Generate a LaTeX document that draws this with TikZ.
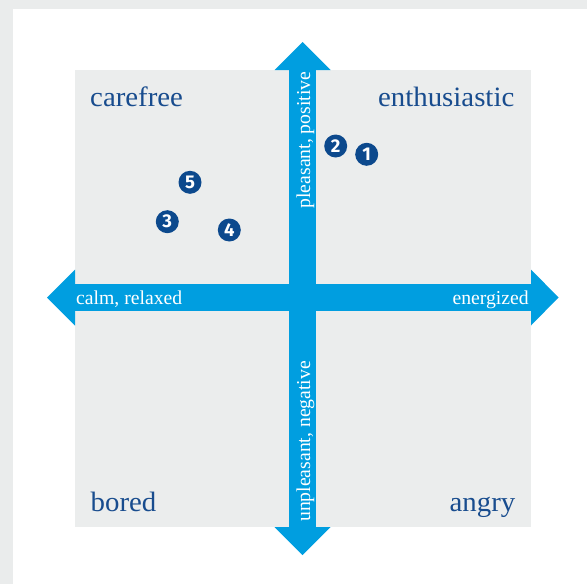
\documentclass[tikz,border=0pt]{standalone}
\usepackage{fontspec}
\setmainfont{Liberation Serif}
\newfontfamily\quadfont{Liberation Serif}[FakeStretch=1.03]
\newfontfamily\numfont{Fira Sans}
\definecolor{outergrey}{RGB}{234,236,236}
\definecolor{panelgrey}{RGB}{235,237,237}
\definecolor{arrowblue}{RGB}{0,158,224}
\definecolor{labelblue}{RGB}{24,76,142}
\definecolor{dotblue}{RGB}{12,73,141}
\tikzset{
  quadlabel/.style={inner sep=0pt, text=labelblue, font=\quadfont\fontsize{28}{30}\selectfont},
  axislabel/.style={inner sep=0pt, text=white, font=\fontsize{19.7}{22}\selectfont},
  dot/.style={circle, fill=dotblue, inner sep=0pt, minimum size=23pt, text=white, font=\numfont\bfseries\fontsize{18.5}{19}\selectfont}
}
\begin{document}
\begin{tikzpicture}[x=1pt,y=-1pt]
\useasboundingbox (0,0) rectangle (587,584);
\fill[outergrey] (0,0) rectangle (587,584);
\fill[white] (13,9) rectangle (587,584);
\fill[panelgrey] (75,70) rectangle (531,527);
% horizontal double arrow
\fill[arrowblue] (47,297.5) -- (75,269.5) -- (75,284.2) -- (531,284.2) -- (531,269.5) -- (558.5,297.5) -- (531,325.5) -- (531,310.8) -- (75,310.8) -- (75,325.5) -- cycle;
% vertical double arrow
\fill[arrowblue] (302.5,42) -- (330.5,70) -- (315.8,70) -- (315.8,527) -- (330.5,527) -- (302.5,555) -- (274.5,527) -- (289.2,527) -- (289.2,70) -- (274.5,70) -- cycle;
% quadrant labels
\node[quadlabel, anchor=base west] (carefree) at (90,106.7) {carefree};
\node[quadlabel, anchor=base east] (enthusiastic) at (514.5,106.5) {enthusiastic};
\node[quadlabel, anchor=base west] (bored) at (90.5,511.4) {bored};
\node[quadlabel, anchor=base east] (angry) at (515.5,511.4) {angry};
% axis labels
\node[axislabel, anchor=base west] (calm) at (76,304.3) {calm, relaxed};
\node[axislabel, anchor=base east] (energized) at (529,304.3) {energized};
\node[axislabel, anchor=base east, rotate=90] (pleasant) at (310,71.5) {pleasant, positive};
\node[axislabel, anchor=base west, rotate=90] (unpleasant) at (310,522) {unpleasant, negative};
% numbered points
\node[dot] (p1) at (366.7,154.3) {1};
\node[dot] (p2) at (335.7,146) {2};
\node[dot] (p3) at (167.3,221.7) {3};
\node[dot] (p4) at (229.3,230) {4};
\node[dot] (p5) at (190,182.3) {5};
\end{tikzpicture}
\end{document}
